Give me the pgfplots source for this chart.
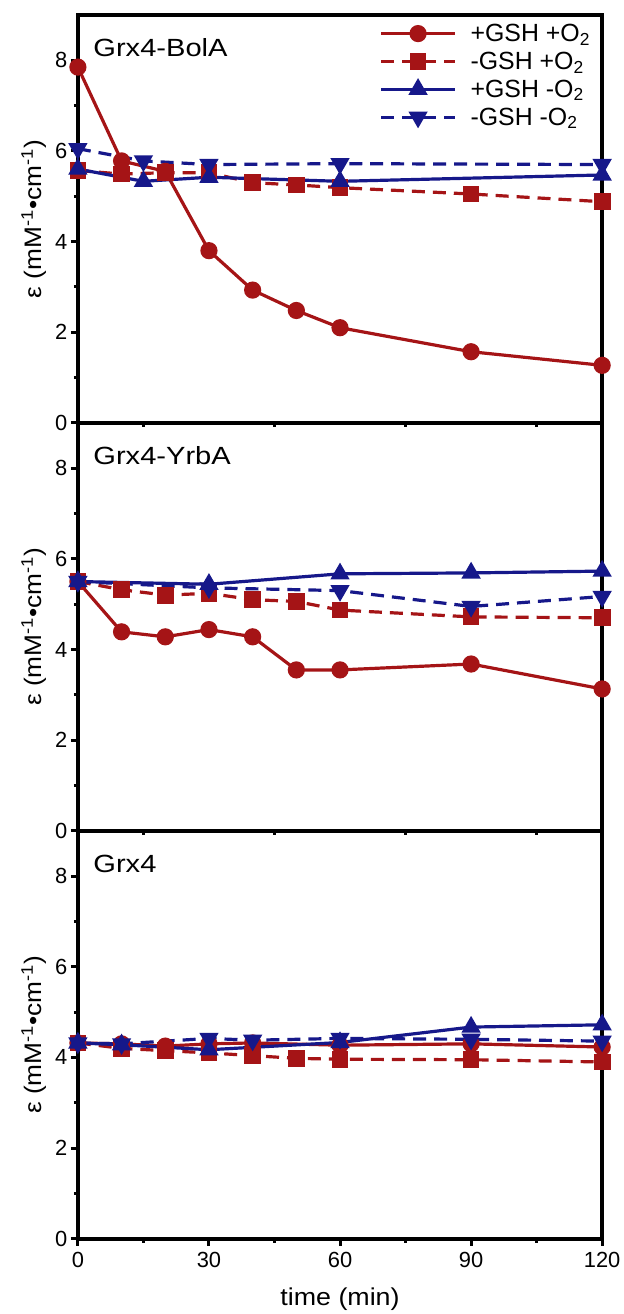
\documentclass[border=0pt]{standalone}
\usepackage{fontspec}
\setmainfont{Liberation Sans}
\newfontfamily\widefont[FakeStretch=1.17]{Liberation Sans}
\newfontfamily\ylfont[FakeStretch=1.1]{Liberation Sans}
\usepackage{pgfplots}
\pgfplotsset{compat=1.18}
\usepgfplotslibrary{groupplots}
\definecolor{myred}{RGB}{165,20,22}
\definecolor{myblue}{RGB}{22,24,138}
\pgfplotsset{
  sA/.style={myred, line width=3.2bp, solid, mark=*, mark size=7bp, mark options={solid, fill=myred}},
  sB/.style={myred, line width=3.2bp, dash pattern=on 13bp off 8bp, mark=square*, mark size=6.8bp, mark options={solid, fill=myred}},
  sC/.style={myblue, line width=3.2bp, solid, mark=triangle*, mark size=8bp, mark options={solid, fill=myblue}},
  sD/.style={myblue, line width=3.2bp, dash pattern=on 13bp off 8bp, mark=triangle*, mark size=8bp, mark options={solid, fill=myblue, rotate=180}},
}
\begin{document}
\begin{tikzpicture}
\begin{groupplot}[
  group style={group size=1 by 3, vertical sep=0pt, xticklabels at=edge bottom, xlabels at=edge bottom},
  scale only axis, width=525bp, height=408.5bp,
  xmin=0, xmax=120, ymin=0, ymax=9,
  clip=false,
  axis line style={line width=3.6bp},
  ytick={0,2,4,6,8}, minor ytick={1,3,5,7},
  xtick={0,30,60,90,120}, minor xtick={15,45,75,105},
  tick align=outside, tick pos=left,
  major tick length=7bp, minor tick length=4bp,
  every tick/.style={line width=3bp, black},
  tick label style={font=\fontsize{22}{22}\selectfont},
  xticklabel shift=3bp,
  /pgf/number format/assume math mode=true,
  ylabel={ε (mM\textsuperscript{-1}•cm\textsuperscript{-1})},
  every axis y label/.style={at={(rel axis cs:0,0.5)}, xshift=-36bp, rotate=90, anchor=base, font=\ylfont\fontsize{24}{26}\selectfont},
  xlabel={time (min)},
  every axis x label/.style={at={(rel axis cs:0.5,0)}, anchor=base, yshift=-67bp, font=\ylfont\fontsize{24.5}{26}\selectfont},
  legend image code/.code={\draw[mark repeat=2,mark phase=2,#1] plot coordinates {(0bp,0bp) (37bp,0bp) (74bp,0bp)};},
]
\nextgroupplot[xmajorticks=false, xminorticks=false,
  legend style={draw=none, fill=none, at={(rel axis cs:1,1)}, anchor=north east, xshift=-9bp, yshift=-6bp,
    font=\fontsize{25}{26}\selectfont, row sep=7bp, inner sep=2bp,
    nodes={inner sep=1bp}},
  legend cell align=left]
\addplot[sA] coordinates {(0,7.85)(10,5.78)(20,5.55)(30,3.8)(40,2.93)(50,2.48)(60,2.1)(90,1.57)(120,1.27)};
\addplot[sB] coordinates {(0,5.57)(10,5.49)(20,5.52)(30,5.52)(40,5.3)(50,5.25)(60,5.19)(90,5.05)(120,4.88)};
\addplot[sC] coordinates {(0,5.6)(15,5.33)(30,5.42)(60,5.33)(120,5.47)};
\addplot[sD] coordinates {(0,6.05)(15,5.78)(30,5.7)(60,5.72)(120,5.7)};
\legend{\hspace{13bp}+GSH +O\textsubscript{2}, \hspace{13bp}-GSH +O\textsubscript{2}, \hspace{13bp}+GSH -O\textsubscript{2}, \hspace{13bp}-GSH -O\textsubscript{2}}
\node[anchor=base west, font=\widefont\fontsize{25}{28}\selectfont, xshift=12bp, yshift=-42bp] at (rel axis cs:0,1) {Grx4-BolA};

\nextgroupplot[xmajorticks=false, xminorticks=false]
\addplot[sA] coordinates {(0,5.5)(10,4.39)(20,4.28)(30,4.44)(40,4.28)(50,3.55)(60,3.55)(90,3.68)(120,3.13)};
\addplot[sB] coordinates {(0,5.5)(10,5.32)(20,5.2)(30,5.24)(40,5.1)(50,5.06)(60,4.87)(90,4.72)(120,4.7)};
\addplot[sC] coordinates {(0,5.5)(30,5.44)(60,5.67)(90,5.69)(120,5.73)};
\addplot[sD] coordinates {(0,5.5)(30,5.36)(60,5.3)(90,4.95)(120,5.17)};
\node[anchor=base west, font=\widefont\fontsize{25}{28}\selectfont, xshift=12bp, yshift=-42bp] at (rel axis cs:0,1) {Grx4-YrbA};

\nextgroupplot
\addplot[sA] coordinates {(0,4.32)(10,4.3)(20,4.25)(30,4.3)(40,4.32)(60,4.27)(90,4.3)(120,4.23)};
\addplot[sB] coordinates {(0,4.32)(10,4.2)(20,4.15)(30,4.1)(40,4.04)(50,3.98)(60,3.96)(90,3.95)(120,3.9)};
\addplot[sC] coordinates {(0,4.32)(10,4.28)(30,4.17)(60,4.33)(90,4.67)(120,4.72)};
\addplot[sD] coordinates {(0,4.32)(10,4.3)(30,4.42)(40,4.38)(60,4.42)(90,4.4)(120,4.36)};
\node[anchor=base west, font=\widefont\fontsize{25}{28}\selectfont, xshift=12bp, yshift=-42bp] at (rel axis cs:0,1) {Grx4};
\end{groupplot}
\path (group c1r1.north west) ++(-78bp,15bp) node[inner sep=0pt, minimum size=0pt]{};
\path (group c1r3.south east) ++(19bp,-73bp) node[inner sep=0pt, minimum size=0pt]{};
\end{tikzpicture}
\end{document}
